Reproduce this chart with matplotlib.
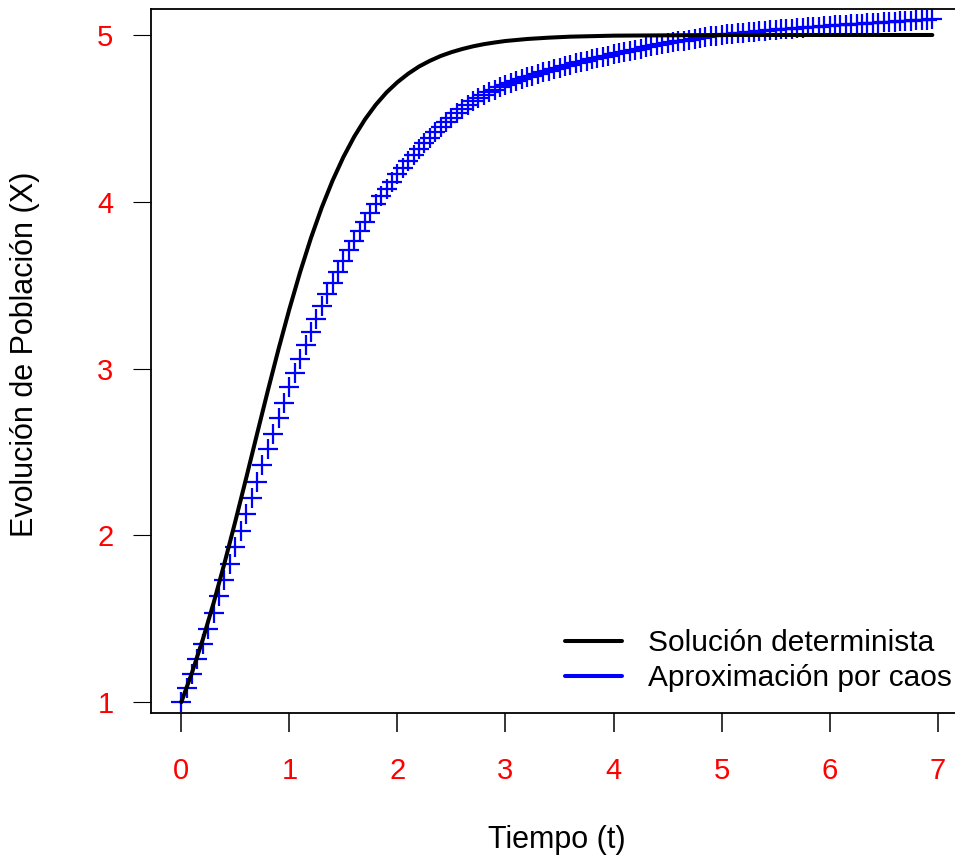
import numpy as np
import matplotlib.pyplot as plt
from matplotlib.lines import Line2D

plt.rcParams['font.family'] = ['Liberation Sans', 'DejaVu Sans']

# Aproximacion por caos: una muestra cada 0.05 desde t=0
t_caos = np.round(np.arange(140) * 0.05, 2)
x_caos = [
    1.000, 1.086, 1.172, 1.260, 1.350, 1.442, 1.538, 1.636, 1.732, 1.830,
    1.928, 2.027, 2.127, 2.225, 2.322, 2.420, 2.516, 2.610, 2.705, 2.797,
    2.887, 2.973, 3.057, 3.140, 3.220, 3.299, 3.374, 3.446, 3.516, 3.582,
    3.648, 3.710, 3.768, 3.826, 3.880, 3.933, 3.984, 4.032, 4.077, 4.121,
    4.164, 4.205, 4.245, 4.282, 4.318, 4.352, 4.385, 4.417, 4.448, 4.477,
    4.505, 4.532, 4.558, 4.582, 4.603, 4.622, 4.640, 4.657, 4.673, 4.687,
    4.700, 4.712, 4.724, 4.736, 4.747, 4.757, 4.767, 4.777, 4.787, 4.796,
    4.805, 4.813, 4.822, 4.830, 4.838, 4.846, 4.854, 4.862, 4.870, 4.877,
    4.885, 4.892, 4.899, 4.906, 4.913, 4.919, 4.926, 4.932, 4.938, 4.944,
    4.950, 4.955, 4.961, 4.966, 4.971, 4.976, 4.981, 4.986, 4.991, 4.995,
    5.000, 5.003, 5.006, 5.009, 5.012, 5.015, 5.018, 5.021, 5.024, 5.027,
    5.030, 5.033, 5.035, 5.038, 5.040, 5.043, 5.045, 5.048, 5.050, 5.053,
    5.055, 5.057, 5.059, 5.061, 5.063, 5.065, 5.067, 5.069, 5.071, 5.073,
    5.075, 5.077, 5.079, 5.081, 5.083, 5.085, 5.087, 5.089, 5.091, 5.093,
]

# Solucion determinista
t_det = [0.0, 0.1, 0.2, 0.3, 0.4, 0.5, 0.6, 0.7, 0.8, 0.9,
         1.0, 1.1, 1.2, 1.3, 1.4, 1.5, 1.6, 1.7, 1.8, 1.9,
         2.0, 2.1, 2.2, 2.3, 2.4, 2.5, 2.6, 2.7, 2.8, 2.9,
         3.0, 3.2, 3.4, 3.6, 3.8, 4.0, 4.5, 5.0, 5.5, 6.0, 6.5, 6.95]
x_det = [1.000, 1.179, 1.378, 1.597, 1.834, 2.084, 2.342, 2.605, 2.865, 3.117,
         3.356, 3.579, 3.783, 3.966, 4.127, 4.268, 4.390, 4.494, 4.582, 4.656,
         4.717, 4.768, 4.811, 4.845, 4.874, 4.897, 4.916, 4.932, 4.945, 4.955,
         4.964, 4.976, 4.984, 4.990, 4.993, 4.996, 4.998, 5.000, 5.000, 5.000, 5.000, 5.000]

xticks = [0, 1, 2, 3, 4, 5, 6, 7]
yticks = [1, 2, 3, 4, 5]
etiquetas = ['Solución determinista', 'Aproximación por caos']

fig = plt.figure(figsize=(9.55, 8.61), dpi=100)
ax = fig.add_axes([151/955, (861-713.3)/861, (968-151)/955, (713.3-9.3)/861])

# puntos '+' sin linea (los brazos se solapan y forman el trazo)
ax.plot(t_caos, x_caos, linestyle='none', color='blue', marker='+', ms=15, mew=1.6, zorder=2)
ax.plot(t_det, x_det, color='black', lw=2.9, solid_capstyle='round', zorder=3)

ax.set_xlim(-0.28, 7.28)
ax.set_ylim(0.934, 5.154)
ax.set_xticks(xticks)
ax.set_yticks(yticks)
ax.tick_params(axis='x', length=13.7, width=1.1, pad=18, labelsize=21, labelcolor='red')
ax.tick_params(axis='y', length=13, width=0.8, pad=14, labelsize=21, labelcolor='red')
for s in ax.spines.values():
    s.set_linewidth(1.3)

ax.set_xlabel('Tiempo (t)', fontsize=22)
ax.xaxis.label.set_va('center')
ax.xaxis.set_label_coords(557/955, 1 - 840/861, transform=fig.transFigure)
ax.set_ylabel('Evolución de Población (X)', fontsize=22)
ax.yaxis.label.set_va('center')
ax.yaxis.set_label_coords(25/955, 1 - 354/861, transform=fig.transFigure)

handles = [Line2D([], [], color='black', lw=2.9, solid_capstyle='round'),
           Line2D([], [], color='blue', lw=2.9, solid_capstyle='round')]
ax.legend(handles, etiquetas, loc='upper left', bbox_to_anchor=(565/955, 1 - 629/861),
          bbox_transform=fig.transFigure, frameon=False, fontsize=21.5,
          handlelength=1.91, handletextpad=0.87, labelspacing=0.245,
          borderpad=0, borderaxespad=0)

fig.savefig('out.png', dpi=100)
